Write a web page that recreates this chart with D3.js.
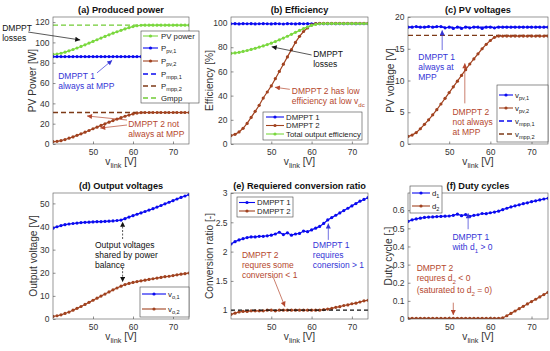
<!DOCTYPE html>
<html>
<head>
<meta charset="utf-8">
<script src="https://cdn.jsdelivr.net/npm/d3@7"></script>
<style>
  body { margin: 0; background: #fff; }
  text { font-family: "Liberation Sans", Arial, sans-serif; }
</style>
</head>
<body>
<svg id="chart" width="550" height="351"></svg>
<script>
// ---- data ----
const vlink = [40, 41, 42, 43, 44, 45, 46, 47, 48, 49, 50, 51, 52, 53, 54, 55, 56, 57,
  58, 59, 60, 61, 62, 63, 64, 65, 66, 67, 68, 69, 70, 71, 72, 73, 74];

// (a) produced power [W]
const pvPower = [88.3, 88.6, 89.3, 90.4, 91.7, 93.0, 94.5, 96.0, 97.6, 99.3, 101.0, 102.6,
  104.3, 105.9, 107.5, 109.1, 110.5, 111.9, 113.3, 114.5, 115.6, 116.4, 116.9, 117.0, 117.0,
  117.0, 117.0, 117.0, 117.0, 117.0, 117.0, 117.0, 117.0, 117.0, 117.0];
const ppv1 = [86, 86, 86, 86, 86, 86, 86, 86, 86, 86, 86, 86, 86, 86, 86, 86, 86, 86,
  86, 86, 86, 86, 86, 86, 86, 86, 86, 86, 86, 86, 86, 86, 86, 86, 86];
const ppv2 = [2.3, 2.6, 3.3, 4.4, 5.7, 7.0, 8.5, 10.0, 11.6, 13.3, 15.0, 16.6, 18.3, 19.9,
  21.5, 23.1, 24.5, 25.9, 27.3, 28.5, 29.6, 30.4, 30.9, 31.0, 31.0, 31.0, 31.0, 31.0, 31.0,
  31.0, 31.0, 31.0, 31.0, 31.0, 31.0];
const pMpp1 = 86, pMpp2 = 31, gMpp = 117;

// (b) efficiency [%]
const eff1 = [99.4, 99.5, 99.3, 99.5, 99.4, 99.5, 99.3, 99.4, 99.5, 99.4, 99.3, 99.5, 99.4,
  99.2, 99.5, 99.4, 99.3, 99.5, 99.4, 99.5, 99.4, 99.6, 99.5, 99.4, 99.5, 99.6, 99.5, 99.6,
  99.5, 99.6, 99.6, 99.5, 99.6, 99.6, 99.6];
const eff2 = [7, 8, 10, 13, 17, 22, 27, 32, 38, 43, 48, 54, 60, 66, 72, 78, 84, 89, 93, 96,
  98.5, 99.5, 99.8, 99.8, 99.8, 99.8, 99.8, 99.8, 99.8, 99.8, 99.8, 99.8, 99.8, 99.8, 99.8];
const effTotal = [75.0, 75.3, 75.8, 76.5, 77.3, 78.2, 79.1, 80.1, 81.1, 82.2, 83.4, 84.7,
  86.1, 87.6, 89.1, 90.7, 92.3, 93.9, 95.4, 96.8, 98.0, 98.9, 99.4, 99.6, 99.6, 99.6, 99.6,
  99.6, 99.6, 99.6, 99.6, 99.6, 99.6, 99.6, 99.6];

// (c) PV voltages [V]
const vpv1 = [18.4, 18.4, 18.5, 18.4, 18.4, 18.5, 18.4, 18.5, 18.5, 18.3, 18.4, 18.2, 18.4,
  18.2, 18.4, 18.3, 18.4, 18.4, 18.2, 18.4, 18.4, 18.3, 18.4, 18.4, 18.4, 18.4, 18.4, 18.4,
  18.4, 18.4, 18.4, 18.4, 18.4, 18.4, 18.4];
const vpv2 = [1.2, 1.4, 1.8, 2.4, 3.1, 3.8, 4.6, 5.4, 6.3, 7.2, 8.1, 9.0, 9.9, 10.8, 11.7,
  12.6, 13.4, 14.2, 15.0, 15.7, 16.3, 16.8, 17.0, 17.0, 17.0, 17.0, 17.0, 17.0, 17.0, 17.0,
  17.0, 17.0, 17.0, 17.0, 17.0];
const vMpp1 = 18.4, vMpp2 = 17.1;

// (d) output voltages [V]
const vo1 = [39.3, 39.9, 40.4, 40.8, 41.1, 41.3, 41.5, 41.7, 41.8, 41.9, 42.0, 42.1, 42.1,
  42.2, 42.3, 42.4, 42.6, 42.8, 43.4, 44.1, 44.7, 45.3, 45.9, 46.5, 47.1, 47.7, 48.4, 49.1,
  49.8, 50.5, 51.2, 51.9, 52.6, 53.2, 53.8];
const vo2 = [1.1, 1.4, 1.8, 2.4, 3.0, 3.8, 4.6, 5.4, 6.3, 7.2, 8.1, 9.0, 9.9, 10.8, 11.7,
  12.6, 13.4, 14.2, 14.9, 15.4, 15.8, 16.2, 16.5, 16.8, 17.1, 17.4, 17.7, 18.0, 18.3, 18.5,
  18.8, 19.1, 19.4, 19.6, 19.9];

// (e) conversion ratio [-]
const ratio1 = [2.13, 2.17, 2.20, 2.22, 2.24, 2.25, 2.25, 2.26, 2.26, 2.27, 2.28, 2.30, 2.33,
  2.29, 2.32, 2.28, 2.30, 2.31, 2.35, 2.34, 2.37, 2.40, 2.43, 2.48, 2.54, 2.58, 2.62, 2.66,
  2.70, 2.74, 2.78, 2.82, 2.86, 2.89, 2.92];
const ratio2 = [0.93, 0.95, 0.97, 0.98, 0.98, 0.99, 0.99, 0.99, 0.99, 1.00, 1.00, 0.99, 1.00,
  1.00, 1.00, 1.00, 1.00, 1.00, 1.00, 1.00, 1.00, 1.00, 1.00, 1.01, 1.02, 1.03, 1.05, 1.06,
  1.08, 1.09, 1.11, 1.12, 1.14, 1.16, 1.17];
const ratioRef = 1;

// (f) duty cycles [-]
const d1 = [0.538, 0.547, 0.552, 0.556, 0.560, 0.562, 0.563, 0.565, 0.566, 0.567, 0.568,
  0.572, 0.578, 0.570, 0.576, 0.566, 0.572, 0.575, 0.582, 0.581, 0.586, 0.590, 0.595, 0.603,
  0.611, 0.618, 0.624, 0.630, 0.636, 0.641, 0.647, 0.652, 0.657, 0.662, 0.666];
const d2 = [0.003, 0.003, 0.003, 0.003, 0.003, 0.003, 0.003, 0.003, 0.003, 0.003, 0.003,
  0.003, 0.003, 0.003, 0.003, 0.003, 0.003, 0.003, 0.003, 0.003, 0.003, 0.003, 0.003, 0.006,
  0.018, 0.031, 0.044, 0.057, 0.070, 0.083, 0.096, 0.109, 0.122, 0.135, 0.147];

const xTicks = [50, 60, 70];

// ---- colours ----
const BLUE = "#0a0af0", BROWN = "#a1421f", GREEN = "#7ad83e";
const BROWN_DASH = "#7d3a17", GREEN_DASH = "#72cc36";
const BLUE_TXT = "#3434d6", BROWN_TXT = "#b5472e", BLACK = "#111";

const svg = d3.select("#chart");

// arrow heads
const defs = svg.append("defs");
[["blk", BLACK], ["blu", BLUE_TXT], ["brn", BROWN_TXT]].forEach(([id, c]) => {
  defs.append("marker")
    .attr("id", "arr-" + id)
    .attr("viewBox", "0 0 10 10")
    .attr("refX", 10).attr("refY", 5)
    .attr("markerUnits", "userSpaceOnUse")
    .attr("markerWidth", 6).attr("markerHeight", 5)
    .attr("orient", "auto")
    .append("path").attr("d", "M0,0 L10,5 L0,10 z").attr("fill", c);
});
const arrowId = { [BLACK]: "blk", [BLUE_TXT]: "blu", [BROWN_TXT]: "brn" };

// text with _{sub} parts
function rich(sel, str, size) {
  const parts = str.split(/(_\{[^}]*\})/).filter(s => s.length);
  let inSub = false;
  parts.forEach(p => {
    if (p.startsWith("_{")) {
      sel.append("tspan").attr("font-size", size * 0.72).attr("dy", size * 0.32).text(p.slice(2, -1));
      inSub = true;
    } else {
      sel.append("tspan").attr("dy", inSub ? -size * 0.32 : 0).text(p);
      inSub = false;
    }
  });
}

const panels = [
  {
    title: "(a) Produced power", ylabel: "PV Power [W]", ylabelOff: 17,
    box: { left: 53, right: 189, top: 17, bottom: 144 },
    yDomain: [0, 125], yTicks: [0, 20, 40, 60, 80, 100, 120],
    refs: [
      { value: pMpp1, color: BLUE }, { value: pMpp2, color: BROWN_DASH }, { value: gMpp, color: GREEN_DASH }
    ],
    series: [
      { data: pvPower, color: GREEN }, { data: ppv1, color: BLUE }, { data: ppv2, color: BROWN }
    ],
    legend: {
      x: 141, y: 31, w: 58, h: 72, lx: [143, 158], tx: 161,
      rows: [
        { label: "PV power", color: GREEN, marker: true, y: 36 },
        { label: "P_{pv,1}", color: BLUE, marker: true, y: 48 },
        { label: "P_{pv,2}", color: BROWN, marker: true, y: 61 },
        { label: "P_{mpp,1}", color: BLUE, dash: true, y: 74 },
        { label: "P_{mpp,2}", color: BROWN_DASH, dash: true, y: 86 },
        { label: "Gmpp", color: GREEN_DASH, dash: true, y: 98 }
      ]
    },
    notes: [
      { x: 27.3, y: 111, lines: ["DMPPT", "losses"], color: BLACK, arrows: [[33.8, 110.2, 46.8, 102.4]] },
      { x: 41.3, y: 64, lines: ["DMPPT 1", "always at MPP"], color: BLUE_TXT, arrows: [[51, 70, 54.8, 82.5]] },
      { x: 58.8, y: 16.7, lines: ["DMPPT 2 not", "always at MPP"], color: BROWN_TXT,
        arrows: [[58.5, 23.6, 48.5, 27.6], [58.5, 18.7, 51.8, 15.7]] }
    ]
  },
  {
    title: "(b) Efficiency", ylabel: "Efficiency [%]", ylabelOff: 18,
    box: { left: 231, right: 368, top: 17, bottom: 144 },
    yDomain: [0, 105], yTicks: [0, 20, 40, 60, 80, 100],
    refs: [],
    series: [
      { data: eff1, color: BLUE }, { data: eff2, color: BROWN }, { data: effTotal, color: GREEN }
    ],
    legend: {
      x: 263, y: 112, w: 99, h: 28, lx: [266, 284], tx: 286,
      rows: [
        { label: "DMPPT 1", color: BLUE, marker: true, y: 117 },
        { label: "DMPPT 2", color: BROWN, marker: true, y: 125.5 },
        { label: "Total output efficiency", color: GREEN, marker: true, y: 134 }
      ]
    },
    notes: [
      { x: 60.4, y: 71.9, lines: ["DMPPT", "losses"], color: BLACK, arrows: [[60.0, 73.6, 50.1, 80.4]] },
      { x: 55.1, y: 41.3, lines: ["DMPPT 2 has low", "efficiency at low v_{dc}"], color: BROWN_TXT,
        arrows: [[54.6, 45.2, 50.9, 46.9]] }
    ]
  },
  {
    title: "(c) PV voltages", ylabel: "PV voltage [V]", ylabelOff: 14,
    box: { left: 408, right: 548, top: 17, bottom: 144 },
    yDomain: [0, 20], yTicks: [0, 5, 10, 15, 20],
    refs: [{ value: vMpp1, color: BLUE }, { value: vMpp2, color: BROWN_DASH }],
    series: [{ data: vpv1, color: BLUE }, { data: vpv2, color: BROWN }],
    legend: {
      x: 497, y: 85, w: 51, h: 57, lx: [499, 513], tx: 515,
      rows: [
        { label: "v_{pv,1}", color: BLUE, marker: true, y: 95 },
        { label: "v_{pv,2}", color: BROWN, marker: true, y: 108 },
        { label: "v_{mpp,1}", color: BLUE, dash: true, y: 121 },
        { label: "v_{mpp,2}", color: BROWN_DASH, dash: true, y: 134 }
      ]
    },
    notes: [
      { x: 42.5, y: 13.2, lines: ["DMPPT 1", "always at", "MPP"], color: BLUE_TXT, arrows: [[48.3, 14.8, 48.3, 17.9]] },
      { x: 50.8, y: 4.57, lines: ["DMPPT 2", "not always", "at MPP"], color: BROWN_TXT, arrows: [[53.8, 6.4, 53.8, 12.7]] }
    ]
  },
  {
    title: "(d) Output voltages", ylabel: "Output voltage [V]", ylabelOff: 16,
    box: { left: 53, right: 189, top: 193, bottom: 319 },
    yDomain: [0, 54.5], yTicks: [0, 10, 20, 30, 40, 50],
    refs: [],
    series: [{ data: vo1, color: BLUE }, { data: vo2, color: BROWN }],
    legend: {
      x: 140, y: 287, w: 49, h: 30, lx: [142, 166], tx: 168,
      rows: [
        { label: "v_{o,1}", color: BLUE, marker: true, y: 294 },
        { label: "v_{o,2}", color: BROWN, marker: true, y: 309 }
      ]
    },
    notes: [
      { x: 50.5, y: 30.9, lines: ["Output voltages", "shared by power", "balance"], color: BLACK, dashed: true,
        arrows: [[57.4, 34.6, 57.4, 42.1], [57.4, 22.2, 57.4, 16.0]] }
    ]
  },
  {
    title: "(e) Requiered conversion ratio", ylabel: "Conversion ratio [-]", ylabelOff: 18,
    box: { left: 231, right: 368, top: 193, bottom: 319 },
    yDomain: [0.85, 3], yTicks: [1, 1.5, 2, 2.5, 3],
    refs: [],
    topRefs: [{ value: ratioRef, color: BLACK }],
    series: [{ data: ratio1, color: BLUE }, { data: ratio2, color: BROWN }],
    legend: {
      x: 237, y: 197, w: 56, h: 20, lx: [239, 255], tx: 257,
      rows: [
        { label: "DMPPT 1", color: BLUE, marker: true, y: 202.5 },
        { label: "DMPPT 2", color: BROWN, marker: true, y: 211 }
      ]
    },
    notes: [
      { x: 42.7, y: 1.891, lines: ["DMPPT 2", "requres some", "conversion < 1"], color: BROWN_TXT,
        arrows: [[50.5, 1.56, 53.4, 1.06]] },
      { x: 60.3, y: 2.062, lines: ["DMPPT 1", "requires", "conersion > 1"], color: BLUE_TXT,
        arrows: [[64.15, 2.2, 64.15, 2.48]] }
    ]
  },
  {
    title: "(f) Duty cycles", ylabel: "Duty cycle [-]", ylabelOff: 16,
    box: { left: 408, right: 548, top: 193, bottom: 319 },
    yDomain: [0, 0.695], yTicks: [0, 0.1, 0.2, 0.3, 0.4, 0.5, 0.6],
    refs: [],
    series: [{ data: d1, color: BLUE }, { data: d2, color: BROWN }],
    legend: {
      x: 410, y: 186, w: 32, h: 27, lx: [412, 430], tx: 432,
      rows: [
        { label: "d_{1}", color: BLUE, marker: true, y: 193 },
        { label: "d_{2}", color: BROWN, marker: true, y: 206 }
      ]
    },
    notes: [
      { x: 50.8, y: 0.436, lines: ["DMPPT 1", "with d_{1} > 0"], color: BLUE_TXT, arrows: [[54.6, 0.495, 54.6, 0.583]] },
      { x: 42.1, y: 0.265, lines: ["DMPPT 2", "requres d_{2} < 0", "(saturated to d_{2} = 0)"], color: BROWN_TXT,
        arrows: [[51.0, 0.09, 51.0, 0.022]], lh: [10, 12] }
    ]
  }
];

panels.forEach((p, i) => drawPanel(p, i));

function drawPanel(p, i) {
  const b = p.box;
  const x = d3.scaleLinear().domain([40, 74]).range([b.left, b.right]);
  const y = d3.scaleLinear().domain(p.yDomain).range([b.bottom, b.top]);
  const g = svg.append("g");

  defs.append("clipPath").attr("id", "clip" + i)
    .append("rect").attr("x", b.left).attr("y", b.top)
    .attr("width", b.right - b.left).attr("height", b.bottom - b.top);

  // axes, ticks pointing inward
  const xa = g.append("g").attr("transform", `translate(0,${b.bottom})`)
    .call(d3.axisBottom(x).tickValues(xTicks).tickSizeInner(-2.5).tickSizeOuter(0).tickPadding(5));
  const ya = g.append("g").attr("transform", `translate(${b.left},0)`)
    .call(d3.axisLeft(y).tickValues(p.yTicks).tickSizeInner(-2.5).tickSizeOuter(0).tickPadding(3.5)
      .tickFormat(d3.format("~g")));
  [xa, ya].forEach(a => {
    a.select(".domain").remove();
    a.selectAll(".tick line").attr("stroke", "#444").attr("stroke-width", 0.6);
    a.selectAll(".tick text").attr("fill", "#333").attr("font-size", 8.5)
      .attr("font-family", "Liberation Sans, Arial, sans-serif");
  });

  const plot = g.append("g").attr("clip-path", `url(#clip${i})`);
  const line = d3.line().x((d, k) => x(vlink[k])).y(d => y(d));

  const refLine = (r, dash) => plot.append("line")
    .attr("x1", x(40)).attr("x2", x(74)).attr("y1", y(r.value)).attr("y2", y(r.value))
    .attr("stroke", r.color).attr("stroke-width", 1.3).attr("stroke-dasharray", dash);

  p.refs.forEach(r => refLine(r, "5,3"));

  p.series.forEach(s => {
    plot.append("path").datum(s.data).attr("d", line)
      .attr("fill", "none").attr("stroke", s.color).attr("stroke-width", 1.2);
    plot.selectAll(null).data(s.data).enter().append("circle")
      .attr("cx", (d, k) => x(vlink[k])).attr("cy", d => y(d))
      .attr("r", 1.6).attr("fill", s.color);
  });

  (p.topRefs || []).forEach(r => refLine(r, "4,3"));

  // box
  g.append("rect").attr("x", b.left).attr("y", b.top)
    .attr("width", b.right - b.left).attr("height", b.bottom - b.top)
    .attr("fill", "none").attr("stroke", "#555").attr("stroke-width", 0.6);

  // title and labels
  g.append("text").attr("x", (b.left + b.right) / 2).attr("y", b.top - 4)
    .attr("text-anchor", "middle").attr("font-size", 9.2).attr("font-weight", "bold")
    .attr("fill", "#111").text(p.title);

  const xl = g.append("text").attr("x", (b.left + b.right) / 2).attr("y", b.bottom + 20.5)
    .attr("text-anchor", "middle").attr("font-size", 10.2).attr("fill", "#333");
  rich(xl, "v_{link} [V]", 10.2);

  g.append("text")
    .attr("transform", `translate(${b.left - p.ylabelOff},${(b.top + b.bottom) / 2}) rotate(-90)`)
    .attr("text-anchor", "middle").attr("font-size", 10.2).attr("fill", "#333")
    .text(p.ylabel);

  // legend
  const L = p.legend;
  const lg = g.append("g");
  lg.append("rect").attr("x", L.x).attr("y", L.y).attr("width", L.w).attr("height", L.h)
    .attr("fill", "#fff").attr("stroke", "#444").attr("stroke-width", 0.6);
  L.rows.forEach(r => {
    lg.append("line").attr("x1", L.lx[0]).attr("x2", L.lx[1]).attr("y1", r.y).attr("y2", r.y)
      .attr("stroke", r.color).attr("stroke-width", r.dash ? 1.3 : 1.1)
      .attr("stroke-dasharray", r.dash ? "5,3" : null);
    if (r.marker) {
      lg.append("circle").attr("cx", (L.lx[0] + L.lx[1]) / 2).attr("cy", r.y).attr("r", 1.6).attr("fill", r.color);
    }
    const t = lg.append("text").attr("x", L.tx).attr("y", r.y + 2.8)
      .attr("font-size", 7.8).attr("fill", "#222");
    rich(t, r.label, 7.8);
  });

  // annotations
  p.notes.forEach(n => {
    n.arrows.forEach(a => {
      g.append("line").attr("x1", x(a[0])).attr("y1", y(a[1])).attr("x2", x(a[2])).attr("y2", y(a[3]))
        .attr("stroke", n.color).attr("stroke-width", 0.7)
        .attr("stroke-dasharray", n.dashed ? "2,1.5" : null)
        .attr("marker-end", `url(#arr-${arrowId[n.color]})`);
    });
    let yy = y(n.y);
    n.lines.forEach((ln, k) => {
      if (k > 0) yy += n.lh ? n.lh[k - 1] : 10;
      const t = g.append("text").attr("x", x(n.x)).attr("y", yy)
        .attr("font-size", 8.5).attr("fill", n.color);
      rich(t, ln, 8.5);
    });
  });
}
</script>
</body>
</html>
